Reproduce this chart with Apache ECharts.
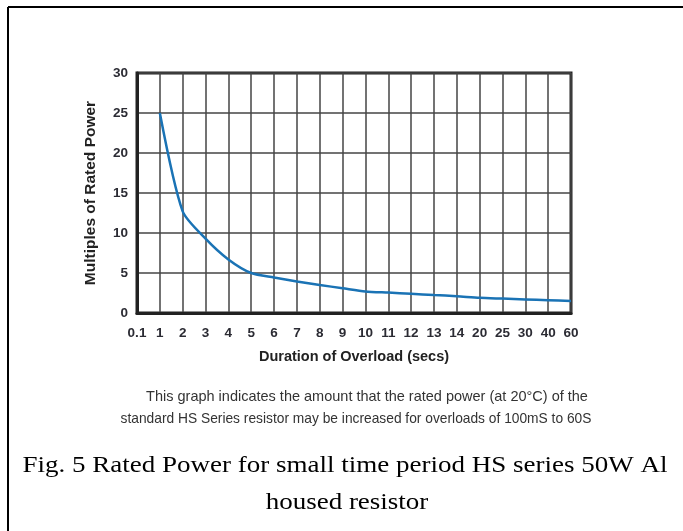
<!DOCTYPE html>
<html>
<head>
<meta charset="utf-8">
<script src="https://cdn.jsdelivr.net/npm/echarts@6/dist/echarts.min.js"></script>
<style>
  html, body { margin: 0; padding: 0; background: #fff; }
  #chart { width: 683px; height: 531px; }
</style>
</head>
<body>
<div id="chart"></div>
<script>
// duration of overload (secs), category axis as printed
var durations = ['0.1', '1', '2', '3', '4', '5', '6', '7', '8', '9', '10',
                 '11', '12', '13', '14', '20', '25', '30', '40', '60'];
// multiples of rated power
var multiples = [null, 25, 12.7, 9.3, 6.7, 5.0, 4.45, 3.95, 3.5, 3.1, 2.7,
                 2.55, 2.4, 2.25, 2.1, 1.9, 1.8, 1.7, 1.6, 1.5];
var yTicks = [0, 30, 5];

var noteLines = [
    'This graph indicates the amount that the rated power (at 20°C) of the',
    'standard HS Series resistor may be increased for overloads of 100mS to 60S'
];
var figLines = [
    'Fig. 5 Rated Power for small time period HS series 50W Al',
    'housed resistor'
];

var chart = echarts.init(document.getElementById('chart'));

var labelFont = {
    color: '#2b2b33',
    fontFamily: 'Liberation Sans',
    fontWeight: 'bold',
    fontSize: 13.5
};

var option = {
    backgroundColor: '#fff',
    animation: false,
    grid: {
        left: 137,
        top: 73,
        width: 434,
        height: 240,
        show: true,
        borderColor: '#222',
        borderWidth: 3
    },
    xAxis: {
        type: 'category',
        data: durations,
        boundaryGap: false,
        name: 'Duration of Overload (secs)',
        nameLocation: 'middle',
        nameGap: 36,
        nameTextStyle: {
            color: '#222',
            fontFamily: 'Liberation Sans',
            fontWeight: 'bold',
            fontSize: 14.5
        },
        axisLine: { show: true, lineStyle: { color: '#222', width: 3 } },
        axisTick: { show: false },
        axisLabel: Object.assign({ interval: 0, margin: 13 }, labelFont),
        splitLine: { show: true, interval: 0, lineStyle: { color: '#444', width: 1.5 } }
    },
    yAxis: {
        type: 'value',
        min: yTicks[0],
        max: yTicks[1],
        interval: yTicks[2],
        name: 'Multiples of Rated Power',
        nameLocation: 'middle',
        nameGap: 38,
        nameTextStyle: {
            color: '#222',
            fontFamily: 'Liberation Sans',
            fontWeight: 'bold',
            fontSize: 15.5
        },
        axisLine: { show: true, lineStyle: { color: '#222', width: 3 } },
        axisTick: { show: false },
        axisLabel: Object.assign({ margin: 9 }, labelFont),
        splitLine: { show: true, lineStyle: { color: '#444', width: 1.5 } }
    },
    series: [
        {
            type: 'line',
            data: multiples,
            smooth: 0.25,
            showSymbol: false,
            lineStyle: { color: '#1a73b5', width: 2.5 },
            z: 5
        }
    ],
    graphic: [
        // page frame: top and left edges only
        { type: 'line', shape: { x1: 8, y1: 7, x2: 683, y2: 7 }, style: { stroke: '#000', lineWidth: 2 } },
        { type: 'line', shape: { x1: 8, y1: 7, x2: 8, y2: 531 }, style: { stroke: '#000', lineWidth: 2 } },
        {
            type: 'text', x: 367, y: 397,
            style: {
                text: noteLines[0], textAlign: 'center', textVerticalAlign: 'middle',
                fill: '#333', font: '14.5px "Liberation Sans"'
            }
        },
        {
            type: 'text', x: 356, y: 419, scaleX: 0.95,
            style: {
                text: noteLines[1], textAlign: 'center', textVerticalAlign: 'middle',
                fill: '#333', font: '14.5px "Liberation Sans"'
            }
        },
        {
            type: 'text', x: 345, y: 466, scaleX: 1.125,
            style: {
                text: figLines[0], textAlign: 'center', textVerticalAlign: 'middle',
                fill: '#000', font: '24px "Liberation Serif"'
            }
        },
        {
            type: 'text', x: 347, y: 503, scaleX: 1.125,
            style: {
                text: figLines[1], textAlign: 'center', textVerticalAlign: 'middle',
                fill: '#000', font: '24px "Liberation Serif"'
            }
        }
    ]
};

chart.setOption(option);
</script>
</body>
</html>
